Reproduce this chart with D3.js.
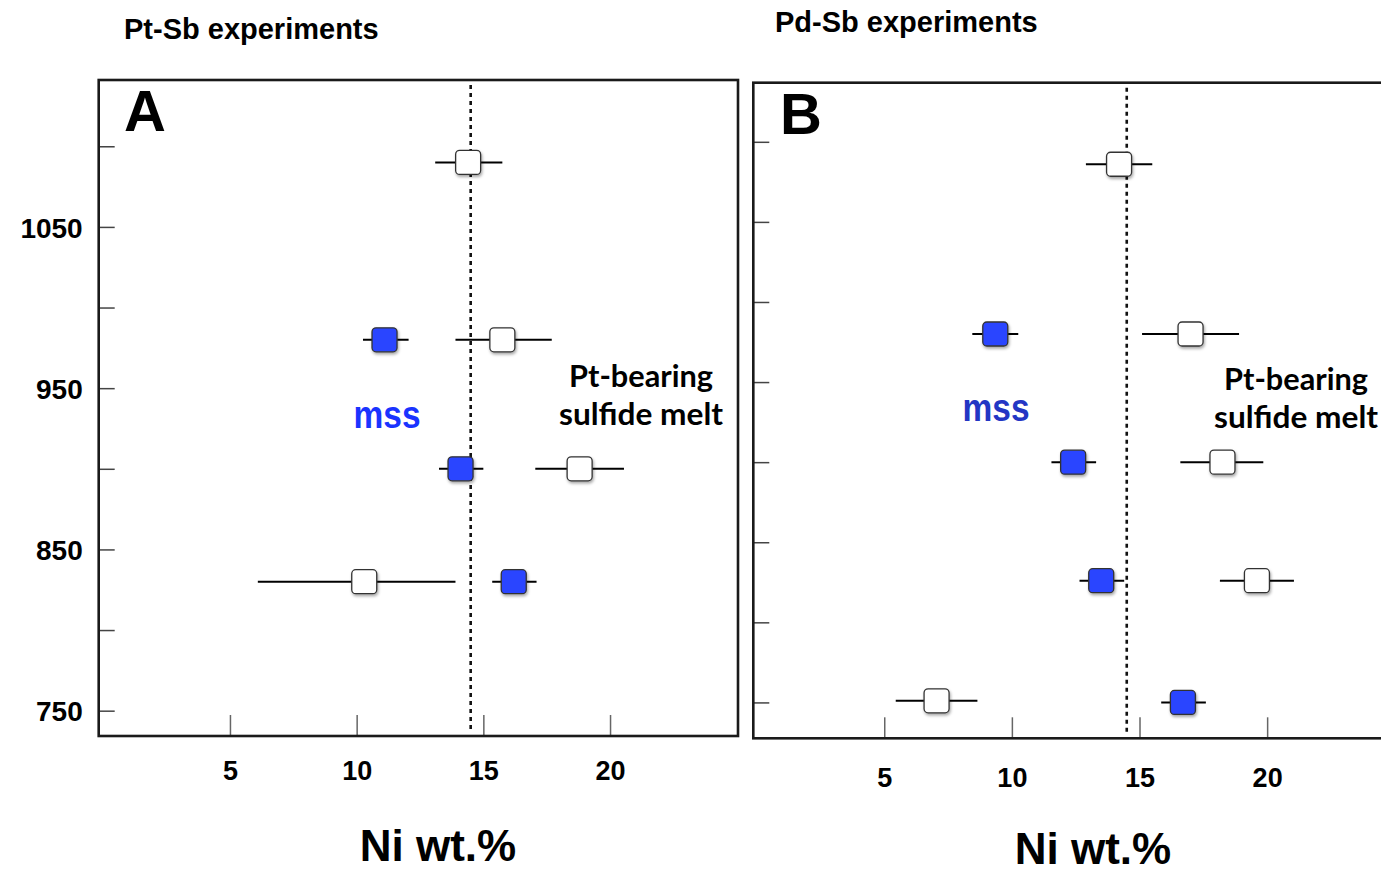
<!DOCTYPE html>
<html>
<head>
<meta charset="utf-8">
<script src="https://cdn.jsdelivr.net/npm/d3@7"></script>
<style>
  body { margin: 0; background: #fff; }
  svg text { font-family: "Liberation Sans", Arial, Helvetica, sans-serif; font-weight: bold; }
</style>
</head>
<body>
<div id="chart"></div>
<script>
// ticks shared by both panels
var xTicks = [5, 10, 15, 20];
var yTicks = [750, 800, 850, 900, 950, 1000, 1050, 1100];
var yTickLabels = ["750", "", "850", "", "950", "", "1050", ""];
var boundaryNi = 14.5;   // dotted line

// A : Pt-Sb experiments (T in C, Ni wt.%)
var ptMssT  = [980, 900, 830];
var ptMssNi = [11.1, 14.1, 16.2];
var ptMssLo = [10.25, 13.25, 15.35];
var ptMssHi = [12.05, 15.0, 17.1];
var ptMeltT  = [1090, 980, 900, 830];
var ptMeltNi = [14.4, 15.75, 18.8, 10.3];
var ptMeltLo = [13.1, 13.9, 17.05, 6.1];
var ptMeltHi = [15.75, 17.7, 20.55, 13.9];

// B : Pd-Sb experiments
var pdMssT  = [980, 900, 826, 750];
var pdMssNi = [9.35, 12.4, 13.5, 16.7];
var pdMssLo = [8.45, 11.55, 12.65, 15.85];
var pdMssHi = [10.25, 13.3, 14.4, 17.6];
var pdMeltT  = [1086, 980, 900, 826, 751];
var pdMeltNi = [14.2, 17.0, 18.25, 19.6, 7.05];
var pdMeltLo = [12.9, 15.1, 16.6, 18.15, 5.45];
var pdMeltHi = [15.5, 18.9, 19.85, 21.05, 8.65];

var mssColor = "#2a45ff";

var svg = d3.select("#chart").append("svg")
    .attr("width", 1381)
    .attr("height", 874);

var defs = svg.append("defs");
var f = defs.append("filter").attr("id", "shadow")
    .attr("x", "-30%").attr("y", "-30%").attr("width", "160%").attr("height", "170%");
f.append("feDropShadow").attr("dx", 1).attr("dy", 2).attr("stdDeviation", 1.6)
    .attr("flood-color", "#000").attr("flood-opacity", 0.35);

function errorBars(g, x, y, T, lo, hi){
  g.selectAll(null).data(T).enter().append("line")
      .attr("x1", function(d, i){ return x(lo[i]); })
      .attr("x2", function(d, i){ return x(hi[i]); })
      .attr("y1", function(d){ return y(d); })
      .attr("y2", function(d){ return y(d); })
      .attr("stroke", "#000")
      .attr("stroke-width", 2);
}

function markers(g, x, y, T, ni, color){
  g.selectAll(null).data(T).enter().append("rect")
      .attr("x", function(d, i){ return x(ni[i]) - 12.5; })
      .attr("y", function(d){ return y(d) - 12; })
      .attr("width", 25)
      .attr("height", 24)
      .attr("rx", 4)
      .attr("fill", color)
      .attr("stroke", "#333")
      .attr("stroke-width", 1.3)
      .attr("filter", "url(#shadow)");
}

function panel(p){
  var x = d3.scaleLinear().domain(p.xDomain).range([p.left, p.right]);
  var y = d3.scaleLinear().domain(p.yDomain).range([p.bottom, p.top]);
  var g = svg.append("g");

  // y axis, ticks inward
  var ya = g.append("g")
      .attr("transform", "translate(" + p.left + ",0)")
      .call(d3.axisLeft(y).tickValues(yTicks).tickSize(-16).tickPadding(16)
            .tickFormat(function(d, i){ return p.yLabels ? yTickLabels[i] : ""; }));
  ya.select(".domain").remove();
  ya.selectAll("line").attr("stroke", "#444").attr("stroke-width", 1.5);
  ya.selectAll("text").attr("font-size", 28).attr("fill", "#000").attr("dy", "0.36em");

  // x axis, ticks inward
  var xa = g.append("g")
      .attr("transform", "translate(0," + p.bottom + ")")
      .call(d3.axisBottom(x).tickValues(xTicks).tickSize(-21).tickPadding(p.xPad));
  xa.select(".domain").remove();
  xa.selectAll("line").attr("stroke", "#666").attr("stroke-width", 1.5);
  xa.selectAll("text").attr("font-size", 27).attr("fill", "#000");

  // frame
  g.append("rect")
      .attr("x", p.left).attr("y", p.top)
      .attr("width", p.right - p.left).attr("height", p.bottom - p.top)
      .attr("fill", "none").attr("stroke", "#1a1a1a").attr("stroke-width", 2.6);

  // dotted boundary
  g.append("line")
      .attr("x1", x(boundaryNi)).attr("x2", x(boundaryNi))
      .attr("y1", p.top + 5).attr("y2", p.bottom - 5)
      .attr("stroke", "#111").attr("stroke-width", 2.6)
      .attr("stroke-dasharray", "4,4");

  errorBars(g, x, y, p.meltT, p.meltLo, p.meltHi);
  errorBars(g, x, y, p.mssT, p.mssLo, p.mssHi);
  markers(g, x, y, p.meltT, p.meltNi, "#fff");
  markers(g, x, y, p.mssT, p.mssNi, mssColor);

  // labels
  svg.append("text").attr("x", p.titleX).attr("y", p.titleY)
      .attr("font-size", 29).text(p.title);
  svg.append("text").attr("x", p.letterX).attr("y", p.letterY)
      .attr("font-size", 58).text(p.letter);
  svg.append("text").attr("x", p.mssX).attr("y", p.mssY)
      .attr("text-anchor", "middle").attr("font-size", 38)
      .attr("textLength", 67).attr("lengthAdjust", "spacingAndGlyphs")
      .attr("fill", p.mssFill).text("mss");
  svg.append("text").attr("x", p.meltX).attr("y", p.meltY)
      .attr("text-anchor", "middle").attr("font-size", 30)
      .style("font-family", "Lato, 'Open Sans', sans-serif")
      .attr("textLength", 144).attr("lengthAdjust", "spacingAndGlyphs")
      .text("Pt-bearing");
  svg.append("text").attr("x", p.meltX).attr("y", p.meltY + 38)
      .attr("text-anchor", "middle").attr("font-size", 30)
      .style("font-family", "Lato, 'Open Sans', sans-serif")
      .attr("textLength", 164).attr("lengthAdjust", "spacingAndGlyphs")
      .text("sulfide melt");
  svg.append("text").attr("x", p.niX).attr("y", p.niY)
      .attr("text-anchor", "middle").attr("font-size", 44)
      .text("Ni wt.%");
}

panel({
  left: 98.7, right: 738, top: 80, bottom: 736,
  xDomain: [-0.18, 25.05], yDomain: [734.3, 1141.1],
  yLabels: true, xPad: 25,
  mssT: ptMssT, mssNi: ptMssNi, mssLo: ptMssLo, mssHi: ptMssHi,
  meltT: ptMeltT, meltNi: ptMeltNi, meltLo: ptMeltLo, meltHi: ptMeltHi,
  title: "Pt-Sb experiments", titleX: 124, titleY: 39,
  letter: "A", letterX: 124, letterY: 131,
  mssX: 387, mssY: 428, mssFill: "#1a33ff",
  meltX: 641, meltY: 387,
  niX: 438, niY: 861
});

panel({
  left: 753.3, right: 1394, top: 82.7, bottom: 738.3,
  xDomain: [-0.13, 24.97], yDomain: [727.6, 1136.9],
  yLabels: false, xPad: 30,
  mssT: pdMssT, mssNi: pdMssNi, mssLo: pdMssLo, mssHi: pdMssHi,
  meltT: pdMeltT, meltNi: pdMeltNi, meltLo: pdMeltLo, meltHi: pdMeltHi,
  title: "Pd-Sb experiments", titleX: 775, titleY: 32,
  letter: "B", letterX: 780, letterY: 134,
  mssX: 996, mssY: 421, mssFill: "#2336c4",
  meltX: 1296, meltY: 390,
  niX: 1093, niY: 864
});
</script>
</body>
</html>
